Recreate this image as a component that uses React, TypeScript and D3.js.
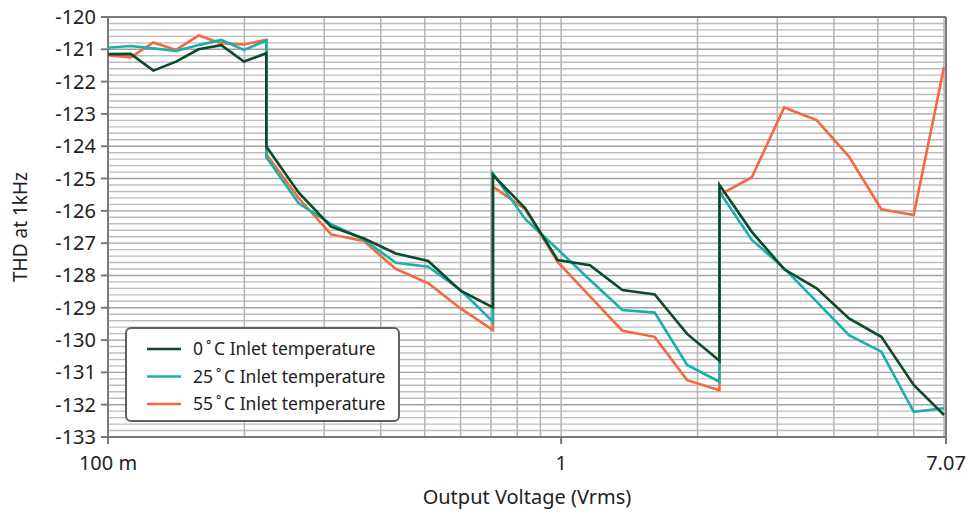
import React from "react";
import * as d3 from "d3";

const xValues = [
  0.1, 0.1122, 0.1259, 0.1413, 0.1585, 0.1778, 0.1995, 0.2236,
  0.2236, 0.2636, 0.3107, 0.3663, 0.4318, 0.509, 0.6, 0.7071,
  0.7071, 0.8335, 0.9825, 1.158, 1.365, 1.609, 1.897, 2.236,
  2.236, 2.636, 3.107, 3.663, 4.318, 5.09, 6.0, 7.0,
];

const thd0C = [
  -121.15, -121.14, -121.66, -121.38, -121.0, -120.87, -121.38, -121.12,
  -124.01, -125.44, -126.49, -126.85, -127.32, -127.55, -128.47, -128.99,
  -124.89, -125.92, -127.52, -127.68, -128.45, -128.59, -129.81, -130.64,
  -125.2, -126.65, -127.81, -128.4, -129.33, -129.9, -131.39, -132.32,
];

const thd25C = [
  -120.95, -120.9, -120.97, -121.05, -120.87, -120.71, -121.02, -120.73,
  -124.34, -125.77, -126.41, -126.88, -127.61, -127.73, -128.45, -129.43,
  -124.84, -126.26, -127.19, -128.14, -129.07, -129.15, -130.77, -131.29,
  -125.41, -126.9, -127.78, -128.81, -129.85, -130.36, -132.22, -132.11,
];

const thd55C = [
  -121.18, -121.25, -120.79, -121.02, -120.57, -120.81, -120.85, -120.71,
  -124.25, -125.61, -126.73, -126.93, -127.8, -128.24, -129.02, -129.69,
  -125.25, -125.95, -127.58, -128.65, -129.71, -129.9, -131.24, -131.55,
  -125.51, -124.96, -122.8, -123.19, -124.32, -125.95, -126.13, -121.55,
];

const seriesNames = [
  "0\u2009˚\u2009C Inlet temperature",
  "25\u2009˚\u2009C Inlet temperature",
  "55\u2009˚\u2009C Inlet temperature",
];
const seriesColors = ["#0b4a2c", "#1aafab", "#f26a3d"];
const seriesData = [thd0C, thd25C, thd55C];

const xTickValues = [0.1, 1, 7.07];
const xTickLabels = ["100 m", "1", "7.07"];
const xGridValues = [0.2, 0.3, 0.4, 0.5, 0.6, 0.7, 0.8, 0.9, 1, 2, 3, 4, 5, 6, 7];
const yTickValues = [-120, -121, -122, -123, -124, -125, -126, -127, -128, -129, -130, -131, -132, -133];

const W = 968;
const H = 515;
const M = { left: 108, right: 946, top: 17, bottom: 437 };
const FONT = "'Noto Sans', 'Open Sans', sans-serif";

export default function App() {
  const x = d3.scaleLog().domain([0.1, 7.07]).range([M.left, M.right]);
  const y = d3.scaleLinear().domain([-133, -120]).range([M.bottom, M.top]);

  const minorY: number[] = [];
  for (let v = -133; v <= -120.001; v += 0.2) minorY.push(Math.round(v * 10) / 10);

  const line = d3
    .line<number>()
    .x((_, i) => x(xValues[i]))
    .y((d) => y(d));

  return (
    <svg
      width={W}
      height={H}
      style={{ position: "absolute", left: 0, top: 0, background: "#fff" }}
      fontFamily={FONT}
    >
      {/* horizontal minor grid */}
      {minorY.map((v, i) => (
        <line
          key={"hm" + i}
          x1={M.left}
          x2={M.right}
          y1={y(v)}
          y2={y(v)}
          stroke={Math.abs(v - Math.round(v)) < 0.01 ? "#a0a0a0" : "#bdbdbd"}
          strokeWidth={1.4}
        />
      ))}
      {/* vertical grid */}
      {xGridValues.map((v, i) => (
        <line
          key={"vg" + i}
          x1={x(v)}
          x2={x(v)}
          y1={M.top}
          y2={M.bottom}
          stroke="#b4b4b4"
          strokeWidth={1.5}
        />
      ))}
      {/* frame */}
      <line x1={M.left} x2={M.right} y1={M.top} y2={M.top} stroke="#7a7a7a" strokeWidth={2} />
      <line x1={M.right} x2={M.right} y1={M.top} y2={M.bottom + 6} stroke="#7a7a7a" strokeWidth={2} />
      <line x1={M.left} x2={M.left} y1={M.top} y2={M.bottom + 6} stroke="#7a7a7a" strokeWidth={2} />
      <line x1={M.left - 6} x2={M.right} y1={M.bottom} y2={M.bottom} stroke="#7a7a7a" strokeWidth={2} />

      {/* y ticks */}
      {yTickValues.map((v) => (
        <g key={"yt" + v}>
          <line x1={M.left - 7} x2={M.left} y1={y(v)} y2={y(v)} stroke="#7a7a7a" strokeWidth={2} />
          <text
            x={M.left - 12}
            y={y(v)}
            dy="0.35em"
            textAnchor="end"
            fontSize={20}
            fill="#222"
          >
            {v}
          </text>
        </g>
      ))}
      {/* x ticks */}
      {xTickValues.map((v, i) => (
        <g key={"xt" + v}>
          <line x1={x(v)} x2={x(v)} y1={M.bottom} y2={M.bottom + 7} stroke="#7a7a7a" strokeWidth={2} />
          <text x={x(v)} y={463} dy="0.35em" textAnchor="middle" fontSize={20} fill="#222">
            {xTickLabels[i]}
          </text>
        </g>
      ))}

      {/* axis titles */}
      <text x={527} y={497} dy="0.35em" textAnchor="middle" fontSize={20} fill="#222">
        Output Voltage (Vrms)
      </text>
      <text
        transform={`translate(20, 227) rotate(-90)`}
        dy="0.35em"
        textAnchor="middle"
        fontSize={19}
        fill="#222"
      >
        THD at 1kHz
      </text>

      {/* series */}
      {seriesData
        .map((d, si) => (
          <path
            key={"s" + si}
            d={line(d) || ""}
            fill="none"
            stroke={seriesColors[si]}
            strokeWidth={2.6}
            strokeLinejoin="miter"
          />
        ))
        .reverse()}

      {/* legend */}
      <rect x={126} y={328} width={273} height={93} rx={5} fill="#fff" stroke="#606060" strokeWidth={2} />
      {seriesNames.map((n, i) => (
        <g key={"lg" + i}>
          <line
            x1={147}
            x2={181}
            y1={349 + i * 27.5}
            y2={349 + i * 27.5}
            stroke={seriesColors[i]}
            strokeWidth={2.6}
          />
          <text x={193} y={349 + i * 27.5} dy="0.35em" fontSize={17.5} fill="#222">
            {n}
          </text>
        </g>
      ))}
    </svg>
  );
}
